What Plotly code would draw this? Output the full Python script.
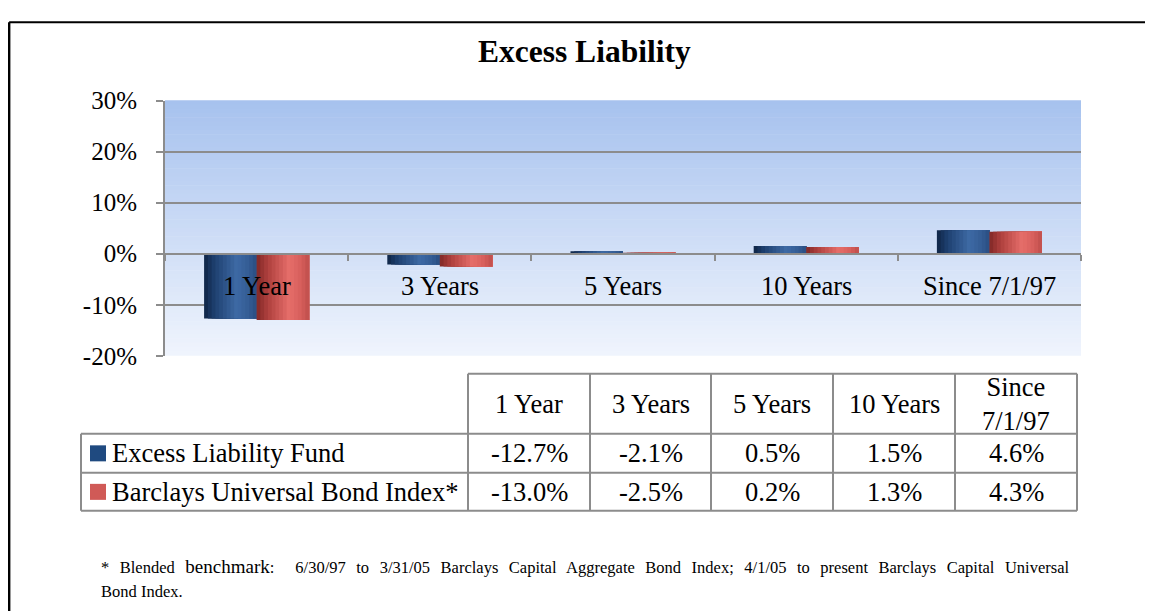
import plotly.graph_objects as go

# the photographed page sits at an offset and is squeezed a little vertically;
# positions below are given in screen pixels and mapped back to figure space
OX, OY, SY = 8, 21.3, 0.956
W, H = 1145, 620

# data
categories = ["1 Year", "3 Years", "5 Years", "10 Years", "Since 7/1/97"]
table_headers = ["1 Year", "3 Years", "5 Years", "10 Years", "Since<br>7/1/97"]
series_names = ["Excess Liability Fund", "Barclays Universal Bond Index*"]
fund_returns = [-12.7, -2.1, 0.5, 1.5, 4.6]
index_returns = [-13.0, -2.5, 0.2, 1.3, 4.3]
y_ticks = [-20, -10, 0, 10, 20, 30]
y_ticktext = [f"{v}%" for v in y_ticks]

FONT = "Liberation Serif, Times New Roman, serif"
GRID = "#8C8C8C"
series_colors = ["#1F4A80", "#D05A57"]

# cylinder-like shading across each bar (left -> right)
blue_stops = [(0.0, (14, 36, 68)), (0.2, (30, 64, 112)), (0.62, (62, 106, 165)),
              (0.85, (52, 92, 148)), (1.0, (42, 78, 130))]
red_stops = [(0.0, (128, 40, 38)), (0.2, (172, 62, 60)), (0.62, (230, 110, 106)),
             (0.85, (214, 94, 91)), (1.0, (190, 78, 75))]


def px(x):
    return (x - OX) / W


def py(y):
    return 1 - (y / SY - OY) / H


def shade(stops, t):
    for (t0, c0), (t1, c1) in zip(stops, stops[1:]):
        if t0 <= t <= t1:
            f = (t - t0) / (t1 - t0)
            c = [round(a + (b - a) * f) for a, b in zip(c0, c1)]
            return f"rgb({c[0]},{c[1]},{c[2]})"
    return f"rgb{stops[-1][1]}"


# plot area in screen pixels
X0, X1 = 165, 1081
Y_TOP, Y_BOT = 100, 355
y_dom = [py(Y_BOT), py(Y_TOP)]
x_dom = [px(X0), px(X1)]
y_range = [-20, 30]
zero_pos = y_dom[0] + (y_dom[1] - y_dom[0]) * (0 - y_range[0]) / (y_range[1] - y_range[0])

fig = go.Figure()

bar_w = 0.2866
n_strips = 14
for s, (vals, stops) in enumerate([(fund_returns, blue_stops), (index_returns, red_stops)]):
    base_off = -bar_w if s == 0 else 0.0
    for k in range(n_strips):
        off = base_off + k * bar_w / n_strips
        fig.add_trace(go.Bar(
            x=categories, y=vals,
            offset=off, width=bar_w - k * bar_w / n_strips,
            marker=dict(color=shade(stops, (k + 0.5) / n_strips), line=dict(width=0)),
            showlegend=False, hoverinfo="skip" if k else None,
            name=series_names[s],
        ))

shapes = []
# plot area gradient background
n_bg = 60
top_c, bot_c = (167, 194, 238), (239, 244, 253)
for i in range(n_bg):
    f = i / (n_bg - 1)
    c = [round(a + (b - a) * f) for a, b in zip(top_c, bot_c)]
    shapes.append(dict(type="rect", xref="x domain", yref="y domain",
                       x0=0, x1=1, y0=1 - (i + 1) / n_bg, y1=1 - i / n_bg + 0.002,
                       fillcolor=f"rgb({c[0]},{c[1]},{c[2]})", line=dict(width=0),
                       layer="below"))

# outer frame (left and top edges visible)
shapes.append(dict(type="line", xref="paper", yref="paper", x0=0.001, x1=1.01,
                   y0=0.998, y1=0.998, line=dict(color="black", width=2)))
shapes.append(dict(type="line", xref="paper", yref="paper", x0=0.001, x1=0.001,
                   y0=0.998, y1=-0.01, line=dict(color="black", width=2.5)))

# data table
col_x = [81, 468, 590, 711, 833, 955, 1077]
row_y = [373, 433, 472, 510]
tline = dict(color=GRID, width=2)
shapes.append(dict(type="line", xref="paper", yref="paper", x0=px(col_x[1]), x1=px(col_x[-1]),
                   y0=py(row_y[0]), y1=py(row_y[0]), line=tline))
for yy in row_y[1:]:
    shapes.append(dict(type="line", xref="paper", yref="paper", x0=px(col_x[0]), x1=px(col_x[-1]),
                       y0=py(yy), y1=py(yy), line=tline))
shapes.append(dict(type="line", xref="paper", yref="paper", x0=px(col_x[0]), x1=px(col_x[0]),
                   y0=py(row_y[1]), y1=py(row_y[-1]), line=tline))
for xx in col_x[1:]:
    shapes.append(dict(type="line", xref="paper", yref="paper", x0=px(xx), x1=px(xx),
                       y0=py(row_y[0]), y1=py(row_y[-1]), line=tline))

annotations = []
tfont = dict(family=FONT, size=26.5, color="black")
for j, h in enumerate(table_headers):
    annotations.append(dict(xref="paper", yref="paper", x=px((col_x[j + 1] + col_x[j + 2]) / 2),
                            y=py((row_y[0] + row_y[1]) / 2), text=h, showarrow=False,
                            font=tfont, xanchor="center", yanchor="middle"))
for r, vals in enumerate([fund_returns, index_returns]):
    yc = (row_y[r + 1] + row_y[r + 2]) / 2
    shapes.append(dict(type="rect", xref="paper", yref="paper", x0=px(90), x1=px(106),
                       y0=py(yc + 8), y1=py(yc - 8), fillcolor=series_colors[r],
                       line=dict(width=0)))
    annotations.append(dict(xref="paper", yref="paper", x=px(110), y=py(yc),
                            text=series_names[r], showarrow=False, font=tfont,
                            xanchor="left", yanchor="middle"))
    for j, v in enumerate(vals):
        annotations.append(dict(xref="paper", yref="paper", x=px((col_x[j + 1] + col_x[j + 2]) / 2),
                                y=py(yc), text=f"{v:.1f}%", showarrow=False, font=tfont,
                                xanchor="center", yanchor="middle"))

# category labels sitting just under the zero line
for c in categories:
    annotations.append(dict(x=c, y=0, xref="x", yref="y", text=c, showarrow=False,
                            font=tfont, yanchor="middle", yshift=-32))

# title
annotations.append(dict(xref="paper", yref="paper", x=px(584), y=py(51), xanchor="center",
                        yanchor="middle", showarrow=False, text="<b>Excess Liability</b>",
                        font=dict(family=FONT, size=31.5, color="black")))

# footnote (first line justified in the original, hence the wider word spacing)
annotations.append(dict(xref="paper", yref="paper", x=px(99), y=py(566), xanchor="left",
                        yanchor="middle", showarrow=False, align="left",
                        text="<span style='word-spacing:6.4px'>* Blended <span style='font-size:19px'>benchmark</span>:  "
                             "6/30/97 to 3/31/05 Barclays Capital Aggregate Bond Index; 4/1/05 to present "
                             "Barclays Capital Universal</span>",
                        font=dict(family=FONT, size=16.5, color="black")))
annotations.append(dict(xref="paper", yref="paper", x=px(99), y=py(591), xanchor="left",
                        yanchor="middle", showarrow=False, text="Bond Index.",
                        font=dict(family=FONT, size=16.5, color="black")))

fig.update_layout(
    width=W, height=H,
    margin=dict(l=0, r=0, t=0, b=0),
    paper_bgcolor="white", plot_bgcolor="rgba(0,0,0,0)",
    barmode="overlay",
    showlegend=False,
    xaxis=dict(domain=x_dom, type="category", anchor="free", position=zero_pos,
               showline=True, linecolor=GRID, linewidth=2, showgrid=False,
               ticks="outside", tickson="boundaries", ticklen=6, tickwidth=2,
               tickcolor=GRID, showticklabels=False, fixedrange=True),
    yaxis=dict(domain=y_dom, range=y_range, tickvals=y_ticks, ticktext=y_ticktext,
               showgrid=True, gridcolor=GRID, gridwidth=2, zeroline=False,
               showline=True, linecolor=GRID, linewidth=2, ticks="outside",
               ticklen=7, tickwidth=2, tickcolor=GRID, ticklabelstandoff=14,
               tickfont=dict(family=FONT, size=25, color="black")),
    shapes=shapes,
    annotations=annotations,
)

fig.write_html("out.html")
